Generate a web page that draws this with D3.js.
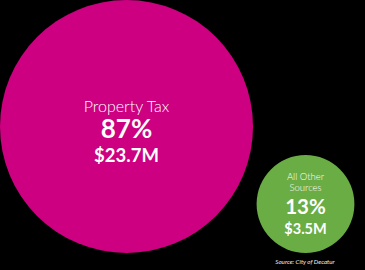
<!DOCTYPE html>
<html>
<head>
<meta charset="utf-8">
<script src="https://cdn.jsdelivr.net/npm/d3@7"></script>
<style>
  html, body { margin: 0; padding: 0; background: #000; }
  svg { display: block; }
  text { font-family: Lato, "Open Sans", sans-serif; fill: #fff; }
</style>
</head>
<body>
<div id="chart"></div>
<script>
const categories = ['Property Tax', 'All Other Sources'];
const shares = [87, 13];
const amounts = ['$23.7M', '$3.5M'];
const labelLines = [['Property Tax'], ['All Other', 'Sources']];
const colors = ['#cc0080', '#6aad45'];
const source = 'Source: City of Decatur';

const W = 365, H = 270;
const svg = d3.select('#chart').append('svg').attr('width', W).attr('height', H);
svg.append('rect').attr('width', W).attr('height', H).attr('fill', '#000');

// circle area proportional to share
const r = d3.scaleSqrt().domain([0, 87]).range([0, 126.5]);
const cx = d3.scalePoint().domain(categories).range([126.5, 305.5]);
const cy = d3.scaleOrdinal().domain(categories).range([126.5, 204]);

const data = categories.map((c, i) => ({ name: c, share: shares[i], amount: amounts[i], lines: labelLines[i], color: colors[i] }));

const g = svg.selectAll('g.bubble').data(data).join('g')
  .attr('class', 'bubble')
  .attr('transform', d => `translate(${cx(d.name)},${cy(d.name)})`);

g.append('circle').attr('r', d => r(d.share)).attr('fill', d => d.color);

// big bubble labels
const big = g.filter((d, i) => i === 0);
big.append('text').attr('text-anchor', 'middle').attr('y', -15)
  .style('font-size', '16px').style('font-weight', 300)
  .text(d => d.lines[0]);
big.append('text').attr('text-anchor', 'middle').attr('y', 11.5)
  .style('font-size', '26px').style('font-weight', 700)
  .text(d => d.share + '%');
big.append('text').attr('text-anchor', 'middle').attr('y', 35.5)
  .style('font-size', '18.5px').style('font-weight', 700)
  .text(d => d.amount);

// small bubble labels
const small = g.filter((d, i) => i === 1);
small.selectAll('text.lbl').data(d => d.lines).join('text')
  .attr('class', 'lbl').attr('text-anchor', 'middle')
  .attr('y', (d, i) => -24 + i * 11)
  .style('font-size', '9.5px').style('font-weight', 300)
  .text(d => d);
small.append('text').attr('text-anchor', 'middle').attr('y', 10)
  .style('font-size', '20.5px').style('font-weight', 700)
  .text(d => d.share + '%');
small.append('text').attr('text-anchor', 'middle').attr('y', 30)
  .style('font-size', '14.5px').style('font-weight', 700)
  .text(d => d.amount);

svg.append('text').attr('x', 305).attr('y', 264).attr('text-anchor', 'middle')
  .style('font-size', '6.2px').style('font-style', 'italic').style('fill', '#eee')
  .text(source);
</script>
</body>
</html>
